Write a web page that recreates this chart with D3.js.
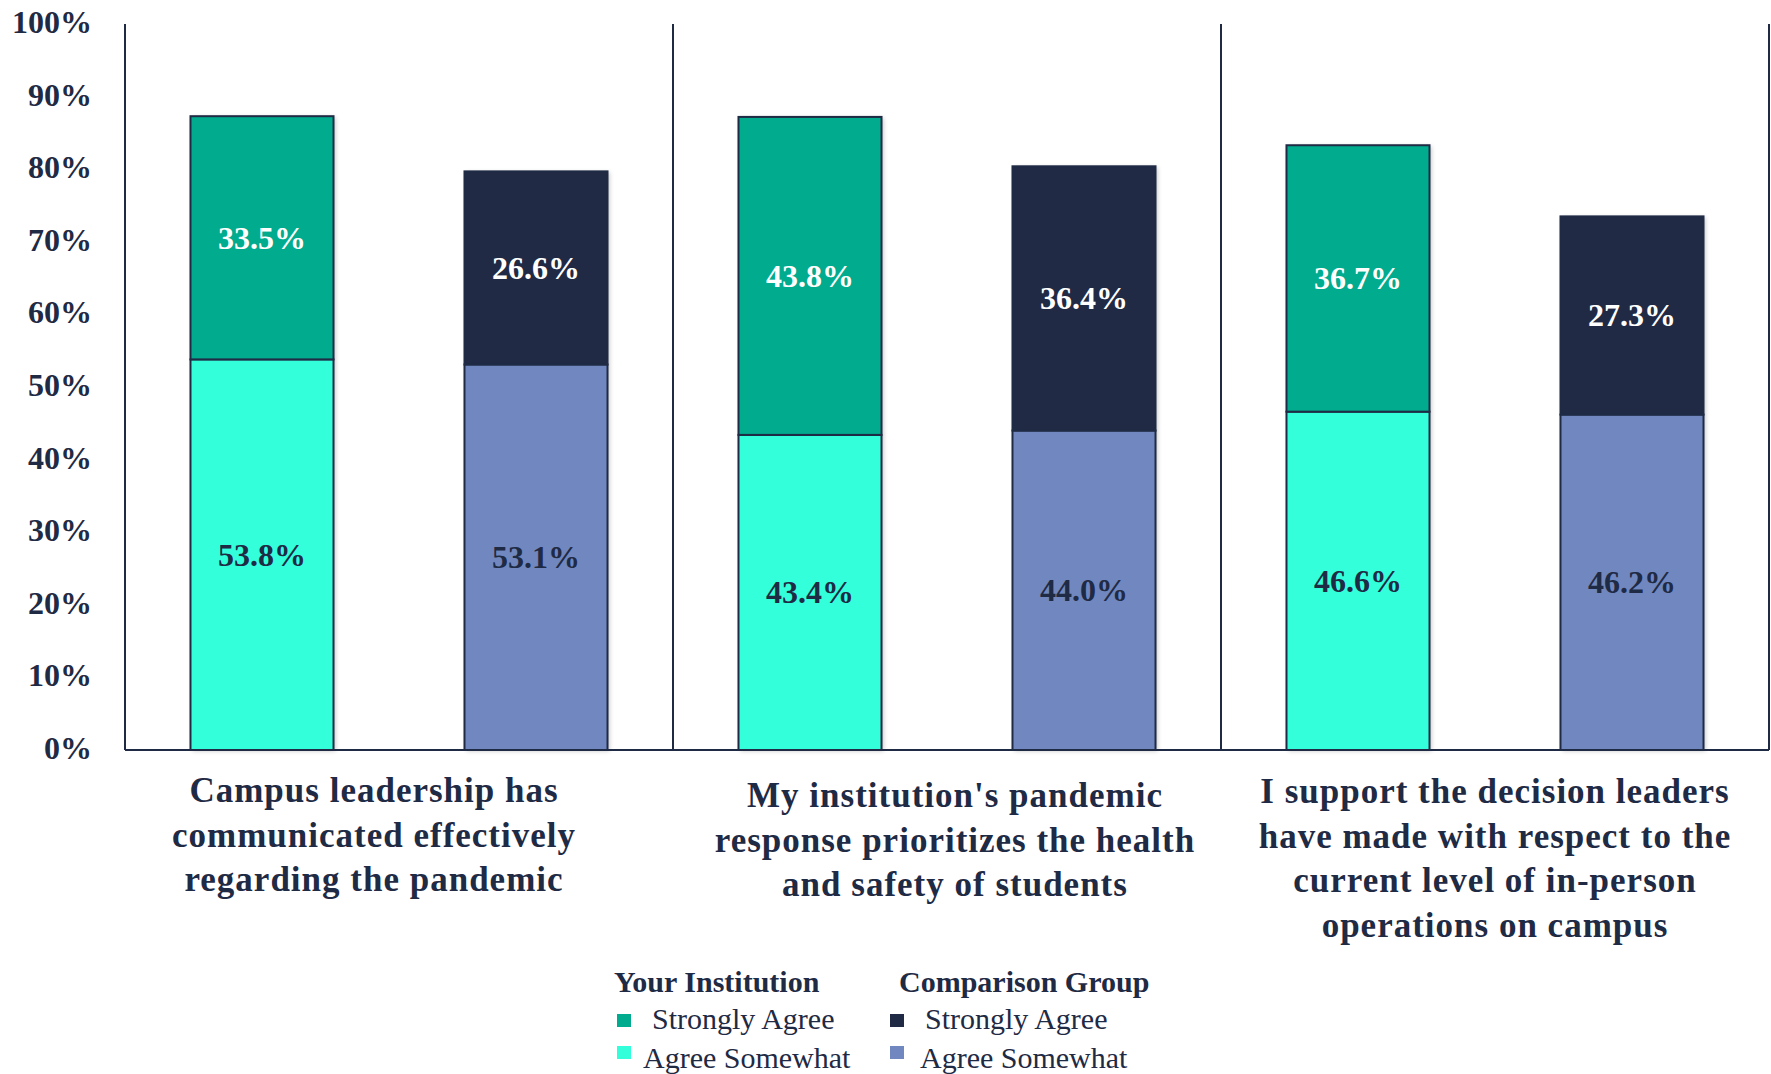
<!DOCTYPE html>
<html>
<head>
<meta charset="utf-8">
<script src="https://cdn.jsdelivr.net/npm/d3@7"></script>
<style>
  body { margin: 0; background: #fff; }
  svg { display: block; }
  text { font-family: "Liberation Serif", "Times New Roman", serif; }
</style>
</head>
<body>
<svg width="1771" height="1074"></svg>
<script>
// data
const categories = [
  "Campus leadership has|communicated effectively|regarding the pandemic",
  "My institution's pandemic|response prioritizes the health|and safety of students",
  "I support the decision leaders|have made with respect to the|current level of in-person|operations on campus"
];
const groups = ["Your Institution", "Comparison Group"];
const instStrongly = [33.5, 43.8, 36.7];
const instSomewhat = [53.8, 43.4, 46.6];
const compStrongly = [26.6, 36.4, 27.3];
const compSomewhat = [53.1, 44.0, 46.2];
const yTicks = [0, 10, 20, 30, 40, 50, 60, 70, 80, 90, 100];

const navy = "#1F2A44";
const colors = {
  instStrong: "#00AB8E", instSome: "#33FFDB",
  compStrong: "#202A45", compSome: "#7088BF"
};

const svg = d3.select("svg");
const margin = {top: 24, left: 125, right: 2, bottom: 324};
const W = 1771, H = 1074;

let x = d3.scaleBand().domain(d3.range(categories.length)).range([margin.left, W - margin.right]);
let xSub = d3.scaleBand().domain(groups).range([0, x.bandwidth()]).paddingInner(0.478).paddingOuter(0.239);
let y = d3.scaleLinear().domain([0, 100]).range([H - margin.bottom, margin.top]);

// faint shadow like the original
const defs = svg.append("defs");
defs.append("filter").attr("id", "shadow").attr("x", "-10%").attr("width", "130%")
  .append("feDropShadow").attr("dx", 2).attr("dy", 1).attr("stdDeviation", 2)
  .attr("flood-color", "#000").attr("flood-opacity", 0.22);

// build segments
let segs = [];
categories.forEach((c, i) => {
  segs.push({i, g: groups[0], y0: 0, y1: instSomewhat[i], v: instSomewhat[i], fill: colors.instSome, tc: navy});
  segs.push({i, g: groups[0], y0: instSomewhat[i], y1: instSomewhat[i] + instStrongly[i], v: instStrongly[i], fill: colors.instStrong, tc: "#fff"});
  segs.push({i, g: groups[1], y0: 0, y1: compSomewhat[i], v: compSomewhat[i], fill: colors.compSome, tc: navy});
  segs.push({i, g: groups[1], y0: compSomewhat[i], y1: compSomewhat[i] + compStrongly[i], v: compStrongly[i], fill: colors.compStrong, tc: "#fff"});
});

// shadows behind whole bars
svg.append("g").selectAll("rect")
  .data(segs.filter(d => d.y0 > 0))
  .enter().append("rect")
  .attr("x", d => x(d.i) + xSub(d.g))
  .attr("width", xSub.bandwidth())
  .attr("y", d => y(d.y1))
  .attr("height", d => y(0) - y(d.y1))
  .attr("fill", "#fff")
  .attr("filter", "url(#shadow)");

svg.append("g").selectAll("rect")
  .data(segs)
  .enter().append("rect")
  .attr("x", d => x(d.i) + xSub(d.g))
  .attr("width", xSub.bandwidth())
  .attr("y", d => y(d.y1))
  .attr("height", d => y(d.y0) - y(d.y1))
  .attr("fill", d => d.fill)
  .attr("stroke", navy)
  .attr("stroke-width", 2);

svg.append("g").selectAll("text")
  .data(segs)
  .enter().append("text")
  .attr("x", d => x(d.i) + xSub(d.g) + xSub.bandwidth() / 2)
  .attr("y", d => y((d.y0 + d.y1) / 2))
  .attr("text-anchor", "middle")
  .attr("dominant-baseline", "central")
  .attr("font-size", 32)
  .attr("font-weight", "bold")
  .attr("fill", d => d.tc)
  .text(d => d.v.toFixed(1) + "%");

// axes frame: left axis, dividers, baseline
let lines = svg.append("g").attr("stroke", navy).attr("stroke-width", 2);
d3.range(categories.length + 1).forEach(k => {
  let xx = k < categories.length ? x(k) : x(categories.length - 1) + x.bandwidth();
  lines.append("line").attr("x1", xx).attr("x2", xx).attr("y1", y(100)).attr("y2", y(0));
});
lines.append("line").attr("x1", margin.left).attr("x2", W - margin.right).attr("y1", y(0)).attr("y2", y(0));

// y tick labels
svg.append("g").selectAll("text")
  .data(yTicks)
  .enter().append("text")
  .attr("x", 92)
  .attr("y", d => y(d) - 2)
  .attr("text-anchor", "end")
  .attr("dominant-baseline", "central")
  .attr("font-size", 32)
  .attr("font-weight", "bold")
  .attr("fill", navy)
  .text(d => d + "%");

// category labels (Excel centres them a bit unevenly)
const labelDx = [-25, 8, 0];
const labelDy = [0, 5, 1];
categories.forEach((c, i) => {
  let t = svg.append("text")
    .attr("text-anchor", "middle")
    .attr("font-size", 35)
    .attr("letter-spacing", 1)
    .attr("font-weight", "bold")
    .attr("fill", navy);
  c.split("|").forEach((ln, j) => {
    t.append("tspan")
      .attr("x", x(i) + x.bandwidth() / 2 + labelDx[i])
      .attr("y", 802 + labelDy[i] + j * 44.5)
      .text(ln);
  });
});

// legend
const legend = [
  {head: groups[0], hx: 614, items: [
    {label: "Strongly Agree", c: colors.instStrong, sx: 617, tx: 652},
    {label: "Agree Somewhat", c: colors.instSome, sx: 617, tx: 643}]},
  {head: groups[1], hx: 899, items: [
    {label: "Strongly Agree", c: colors.compStrong, sx: 890, tx: 925},
    {label: "Agree Somewhat", c: colors.compSome, sx: 890, tx: 920}]}
];
let lg = svg.append("g");
legend.forEach(L => {
  lg.append("text").attr("x", L.hx).attr("y", 992)
    .attr("font-size", 30).attr("font-weight", "bold").attr("fill", navy).text(L.head);
  L.items.forEach((it, j) => {
    lg.append("rect").attr("x", it.sx).attr("y", 1014 + j * 32).attr("width", 14).attr("height", 13).attr("fill", it.c);
    lg.append("text").attr("x", it.tx).attr("y", 1029 + j * 39)
      .attr("font-size", 30).attr("fill", navy).text(it.label);
  });
});
</script>
</body>
</html>
